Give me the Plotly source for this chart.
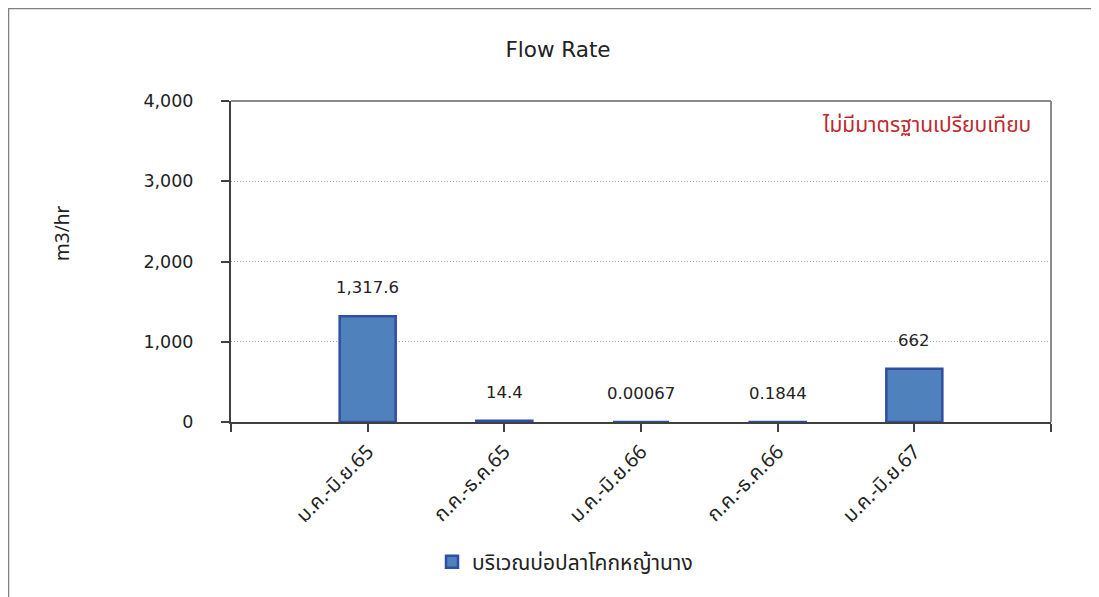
import plotly.graph_objects as go

categories = ["ม.ค.-มิ.ย.65", "ก.ค.-ธ.ค.65", "ม.ค.-มิ.ย.66", "ก.ค.-ธ.ค.66", "ม.ค.-มิ.ย.67"]
values = [1317.6, 14.4, 0.00067, 0.1844, 662]
value_labels = ["1,317.6", "14.4", "0.00067", "0.1844", "662"]
series_name = "บริเวณบ่อปลาโคกหญ้านาง"
y_ticks = [0, 1000, 2000, 3000, 4000]
note_text = "ไม่มีมาตรฐานเปรียบเทียบ"

THAI = "Tahoma, 'Noto Sans Thai', Loma, Garuda, sans-serif"
LAT = "'DejaVu Sans', Verdana, sans-serif"

# the page body adds an 8px offset; figure coordinates are screen minus 8
OFF = 8
W, H = 1099 - OFF, 597 - OFF
PL, PR, PT, PB = 231 - OFF, 1051 - OFF, 101 - OFF, 422 - OFF
PW, PH = PR - PL, PB - PT


def px(X):
    return (X - OFF - PL) / PW


def py(Y):
    return (PB - (Y - OFF)) / PH


xpos = list(range(1, len(categories) + 1))

fig = go.Figure()
fig.add_trace(go.Bar(
    x=xpos, y=values, name=series_name, width=0.41,
    marker=dict(color="#4F81BD", line=dict(color="#2F4FA2", width=2.5)),
    showlegend=True,
))

annotations = []
for x, v, t in zip(xpos, values, value_labels):
    annotations.append(dict(x=x, y=v, text=t, showarrow=False, xref="x", yref="y",
                            yanchor="bottom", yshift=17,
                            font=dict(size=16.5, color="#222222", family=LAT)))
annotations.append(dict(x=px(47), y=py(234), xref="paper", yref="paper",
                        text="m3/hr", textangle=-90, showarrow=False,
                        font=dict(size=19, color="#222222", family="'Noto Sans', 'Open Sans', sans-serif")))
annotations.append(dict(x=px(1033), y=py(125), xref="paper", yref="paper", xanchor="right",
                        yanchor="middle", text=note_text, showarrow=False,
                        font=dict(size=21, color="#C0282D", family=THAI)))

shapes = [
    dict(type="line", xref="paper", yref="paper", x0=0, x1=1, y0=1, y1=1,
         line=dict(color="#8C8C8C", width=2)),
    dict(type="line", xref="paper", yref="paper", x0=1, x1=1, y0=0, y1=1,
         line=dict(color="#8C8C8C", width=2)),
    dict(type="rect", xref="paper", yref="paper", x0=px(8.5), x1=px(1130),
         y0=py(640), y1=py(8.5), line=dict(color="#7F7F7F", width=1.5),
         layer="below"),
]

fig.update_layout(
    width=W, height=H,
    margin=dict(l=PL, r=W - PR, t=PT, b=H - PB, autoexpand=False),
    paper_bgcolor="white", plot_bgcolor="white",
    font=dict(family=LAT, size=17, color="#222222"),
    title=dict(text="Flow Rate", x=(558 - OFF) / W, xanchor="center",
               y=1 - (49 - OFF) / H, yanchor="middle",
               font=dict(size=21.5, color="#222222", family=LAT)),
    xaxis=dict(range=[0, len(categories) + 1], tickmode="array",
               tickvals=list(range(0, len(categories) + 2)),
               ticktext=[""] + categories + [""],
               tickangle=-45, ticks="outside", ticklen=8, tickcolor="#404040", tickwidth=1.5,
               showline=True, linecolor="#404040", linewidth=2, showgrid=False, zeroline=False,
               tickfont=dict(size=20, family=THAI), automargin=False),
    yaxis=dict(range=[0, 4000], tickmode="array", tickvals=y_ticks, tickformat=",",
               ticks="outside", ticklen=8, tickcolor="#404040", tickwidth=1.5,
               ticklabelstandoff=24,
               showline=True, linecolor="#404040", linewidth=2,
               showgrid=True, gridcolor="#A6A6A6", griddash="1px,2px", gridwidth=1,
               zeroline=False, tickfont=dict(size=17.5, family=LAT), automargin=False),
    legend=dict(orientation="h", x=px(565), xanchor="center",
                y=py(562), yanchor="middle", font=dict(size=21, family=THAI)),
    annotations=annotations, shapes=shapes,
)

fig.write_html("out.html")
